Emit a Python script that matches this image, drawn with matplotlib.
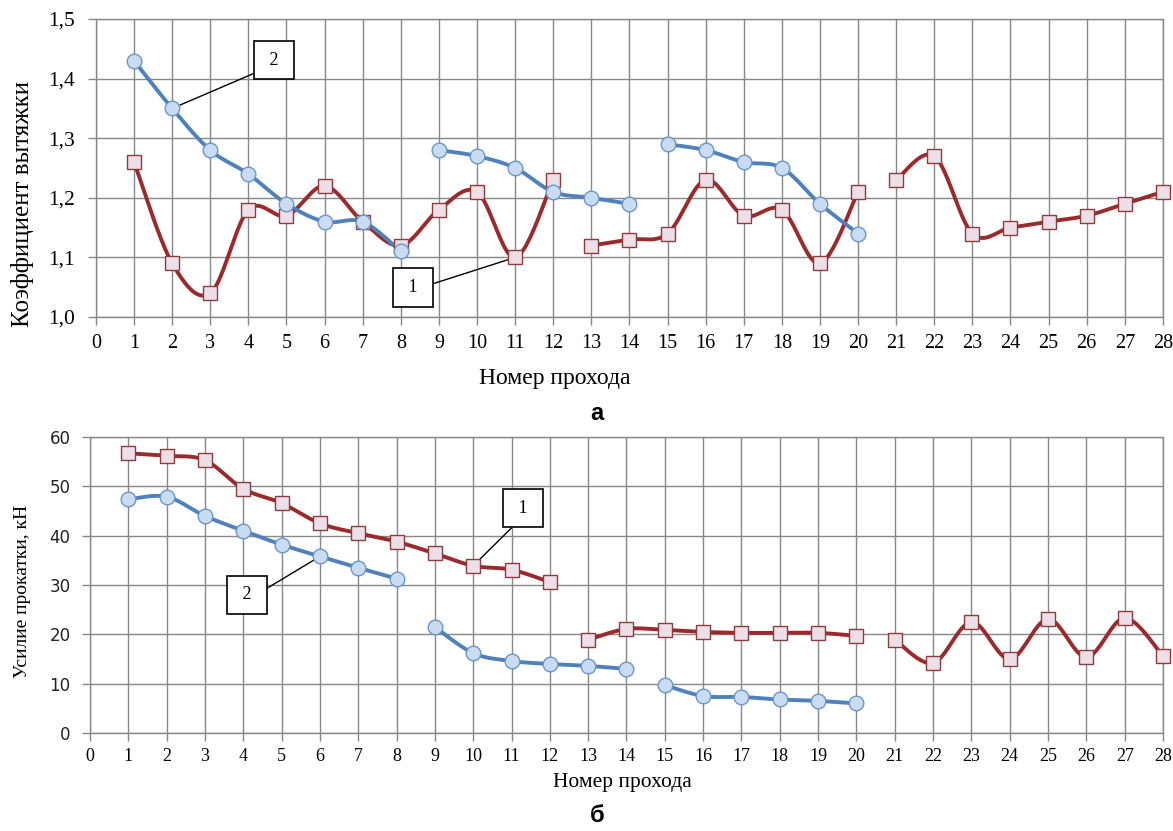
import numpy as np
import matplotlib
matplotlib.use('Agg')
import matplotlib.pyplot as plt

# номера проходов
passes = list(range(1, 29))

# а) коэффициент вытяжки
k1 = [1.26, 1.09, 1.04, 1.18, 1.17, 1.22, 1.16, 1.12, 1.18, 1.21, 1.10, 1.23,
      1.12, 1.13, 1.14, 1.23, 1.17, 1.18, 1.09, 1.21,
      1.23, 1.27, 1.14, 1.15, 1.16, 1.17, 1.19, 1.21]
k2 = [1.43, 1.35, 1.28, 1.24, 1.19, 1.16, 1.16, 1.11,
      1.28, 1.27, 1.25, 1.21, 1.20, 1.19,
      1.29, 1.28, 1.26, 1.25, 1.19, 1.14]
k1_breaks = [12, 20, 28]
k2_breaks = [8, 14, 20]

# б) усилие прокатки, кН
p1 = [56.7, 56.2, 55.3, 49.5, 46.6, 42.5, 40.5, 38.8, 36.4, 33.9, 33.1, 30.6,
      18.9, 21.1, 20.9, 20.5, 20.3, 20.3, 20.3, 19.7,
      18.9, 14.2, 22.5, 15.0, 23.1, 15.4, 23.3, 15.6]
p2 = [47.4, 47.9, 44.0, 41.0, 38.2, 35.8, 33.5, 31.3,
      21.5, 16.2, 14.6, 14.0, 13.6, 13.0,
      9.7, 7.5, 7.3, 6.8, 6.5, 6.0]
p1_breaks = [12, 20, 28]
p2_breaks = [8, 14, 20]

top_yticks = [1.0, 1.1, 1.2, 1.3, 1.4, 1.5]
top_yticklabels = ['1,0', '1,1', '1,2', '1,3', '1,4', '1,5']
bot_yticks = [0, 10, 20, 30, 40, 50, 60]

RED = '#9a2a2c'
BLUE = '#4f81bd'
GRID = '#888888'


def smooth(xs, ys, n=24):
    # сглаживание как в Excel (кривые Безье по соседним точкам)
    x = np.asarray(xs, float)
    y = np.asarray(ys, float)
    if len(x) < 3:
        return x, y
    px = np.concatenate([[x[0]], x, [x[-1]]])
    py = np.concatenate([[y[0]], y, [y[-1]]])
    t = np.linspace(0, 1, n)
    ox, oy = [], []
    for i in range(len(x) - 1):
        x0, x1, x2, x3 = px[i:i + 4]
        y0, y1, y2, y3 = py[i:i + 4]
        c1x, c1y = x1 + (x2 - x0) / 6, y1 + (y2 - y0) / 6
        c2x, c2y = x2 - (x3 - x1) / 6, y2 - (y3 - y1) / 6
        b0 = (1 - t) ** 3
        b1 = 3 * (1 - t) ** 2 * t
        b2 = 3 * (1 - t) * t ** 2
        b3 = t ** 3
        ox.append(b0 * x1 + b1 * c1x + b2 * c2x + b3 * x2)
        oy.append(b0 * y1 + b1 * c1y + b2 * c2y + b3 * y2)
    return np.concatenate(ox), np.concatenate(oy)


def draw_series(ax, vals, breaks, color, marker, mface, medge, ms):
    start = 0
    for end in breaks:
        xs = passes[start:end]
        ys = vals[start:end]
        sx, sy = smooth(xs, ys)
        ax.plot(sx, sy, color=color, lw=2.8, solid_capstyle='round',
                zorder=3, clip_on=False)
        ax.plot(xs, ys, ls='none', marker=marker, ms=ms, mfc=mface,
                mec=medge, mew=1.0, zorder=4, clip_on=False)
        start = end


def style_axes(ax):
    ax.set_xlim(0, 28)
    ax.set_xticks(range(0, 29))
    ax.grid(True, color=GRID, lw=1.0)
    ax.set_axisbelow(True)
    for s in ax.spines.values():
        s.set_color(GRID)
        s.set_linewidth(1.0)
    ax.tick_params(direction='out', length=6, color=GRID, width=1.0)


fig = plt.figure(figsize=(11.73, 8.31), dpi=100)
ax1 = fig.add_axes([0.0818, 0.6185, 0.9096, 0.3586])
ax2 = fig.add_axes([0.0767, 0.1179, 0.9148, 0.3562])

# ---- а ----
draw_series(ax1, k1, k1_breaks, RED, 's', '#ecdfe7', '#8e3b3d', 10)
draw_series(ax1, k2, k2_breaks, BLUE, 'o', '#c9dcf2', '#6a96cc', 10.5)
style_axes(ax1)
ax1.set_ylim(1.0, 1.5)
ax1.set_yticks(top_yticks)
ax1.set_yticklabels(top_yticklabels)
for lab in ax1.get_xticklabels():
    lab.set_fontfamily('Liberation Serif')
    lab.set_fontsize(14.5)
for lab in ax1.get_yticklabels():
    lab.set_fontfamily('Liberation Serif')
    lab.set_fontsize(15.5)
ax1.tick_params(axis='x', pad=6)
ax1.tick_params(axis='y', pad=9)
ax1.set_ylabel('Коэффициент вытяжки', family='Liberation Serif', fontsize=18)
ax1.yaxis.set_label_coords(-0.069, 0.38)
ax1.yaxis.label.set_va('center')
ax1.set_xlabel('Номер прохода', family='Liberation Serif', fontsize=17)
ax1.xaxis.set_label_coords(0.43, -0.205)
ax1.xaxis.label.set_va('center')

box = dict(boxstyle='square,pad=0.6', fc='white', ec='black', lw=1.2)
ax1.annotate(' 2 ', xy=(2, k2[1]), xytext=(4.67, 1.431), ha='center', va='center',
             family='Liberation Serif', fontsize=13, bbox=box,
             arrowprops=dict(arrowstyle='-', color='black', lw=1,
                             relpos=(0, 0), shrinkA=0, shrinkB=6))
ax1.annotate(' 1 ', xy=(11, k1[10]), xytext=(8.32, 1.050), ha='center', va='center',
             family='Liberation Serif', fontsize=13, bbox=box,
             arrowprops=dict(arrowstyle='-', color='black', lw=1,
                             relpos=(1, 0.5), shrinkA=0, shrinkB=5))

# ---- б ----
draw_series(ax2, p1, p1_breaks, RED, 's', '#ecdfe7', '#8e3b3d', 10)
draw_series(ax2, p2, p2_breaks, BLUE, 'o', '#c9dcf2', '#6a96cc', 10.5)
style_axes(ax2)
ax2.set_ylim(0, 60)
ax2.set_yticks(bot_yticks)
for lab in ax2.get_xticklabels():
    lab.set_fontfamily('Liberation Serif')
    lab.set_fontsize(13)
for lab in ax2.get_yticklabels():
    lab.set_fontfamily('DejaVu Sans')
    lab.set_fontsize(12)
    lab.set_color('#222222')
ax2.tick_params(axis='x', pad=5)
ax2.tick_params(axis='y', pad=8)
ax2.set_ylabel('Усилие прокатки, кН', family='Liberation Serif', fontsize=14)
ax2.yaxis.set_label_coords(-0.063, 0.48)
ax2.yaxis.label.set_va('center')
ax2.set_xlabel('Номер прохода', family='Liberation Serif', fontsize=15.5)
ax2.xaxis.set_label_coords(0.496, -0.166)
ax2.xaxis.label.set_va('center')

ax2.annotate(' 2 ', xy=(6, p2[5]), xytext=(4.10, 28.0), ha='center', va='center',
             family='Liberation Serif', fontsize=13, bbox=box,
             arrowprops=dict(arrowstyle='-', color='black', lw=1,
                             relpos=(1, 0.5), shrinkA=0, shrinkB=5))
ax2.annotate(' 1 ', xy=(10, p1[9]), xytext=(11.3, 45.6), ha='center', va='center',
             family='Liberation Serif', fontsize=13, bbox=box,
             arrowprops=dict(arrowstyle='-', color='black', lw=1,
                             relpos=(0.5, 0), shrinkA=0, shrinkB=6))

fig.text(597 / 1173, 1 - 413 / 831, 'а', ha='center', va='center',
         family='Liberation Sans', weight='bold', fontsize=17)
fig.text(597 / 1173, 1 - 815 / 831, 'б', ha='center', va='center',
         family='Liberation Sans', weight='bold', fontsize=17)

fig.savefig('out.png', dpi=100)
